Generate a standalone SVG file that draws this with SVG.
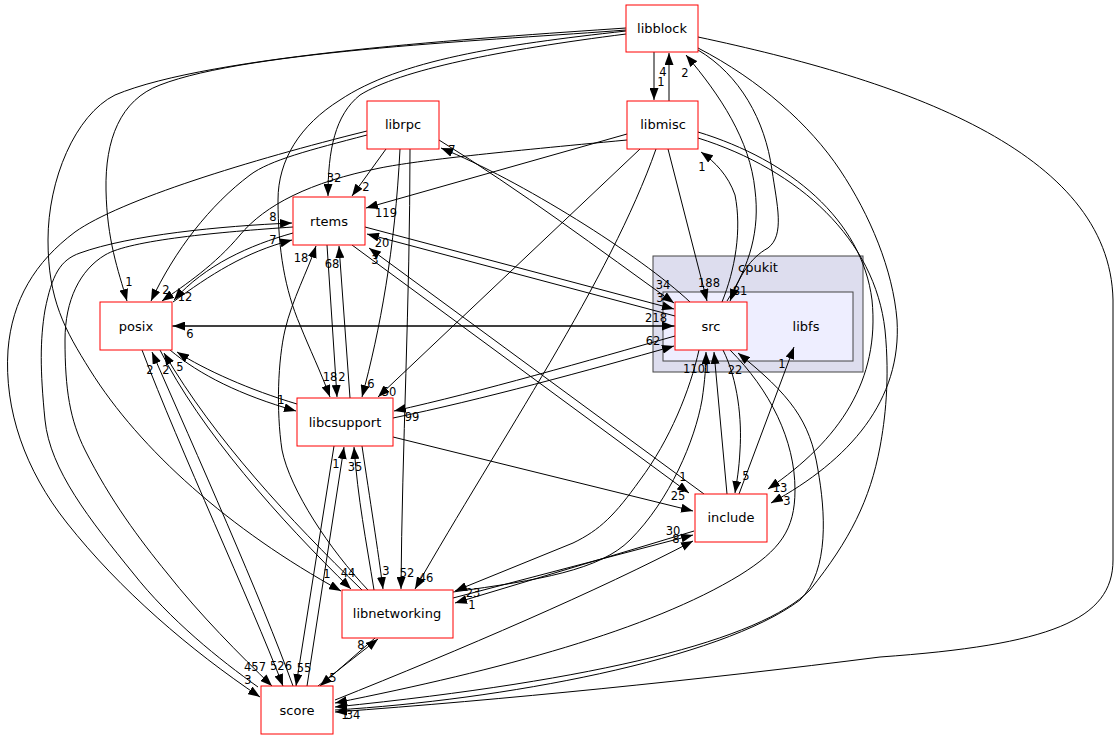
<svg xmlns="http://www.w3.org/2000/svg" width="1119" height="740" viewBox="0 0 1119 740">
<style>
.e{fill:none;stroke:#000;stroke-width:1;marker-end:url(#a)}
.n{fill:#fff;stroke:#ff0000;stroke-width:1}
.t{font-family:"DejaVu Sans","Liberation Sans",sans-serif;font-size:13px;text-anchor:middle;fill:#000}
.l{font-family:"DejaVu Sans","Liberation Sans",sans-serif;font-size:11.5px;text-anchor:middle;fill:#000}
</style>
<defs>
<marker id="a" markerWidth="12" markerHeight="9" refX="12" refY="4.5" orient="auto" markerUnits="userSpaceOnUse"><path d="M0,0L12,4.5L0,9z" fill="#000"/></marker>
</defs>
<rect width="1119" height="740" fill="#fff"/>
<g id="cluster-cpukit">
<rect x="653" y="256" width="210" height="116" fill="#ddddee" stroke="#444"/>
<text class="t" x="758" y="272">cpukit</text>
</g>
<g id="cluster-libfs">
<rect x="663" y="292" width="190" height="69" fill="#eeeeff" stroke="#444"/>
<text class="t" x="806" y="331">libfs</text>
</g>
<g id="edges">
<path class="e" d="M654,52 L654,100"/>
<path class="e" d="M669,101 L669,53"/>
<path class="e" d="M727,301 C750,265 760,230 755,190 C750,140 720,95 686,55"/>
<path class="e" d="M698,50 C740,75 765,120 772,170 C777,205 785,235 768,248 C750,258 740,275 730,301"/>
<path class="e" d="M722,302 C735,270 742,230 735,195 C728,175 715,162 701,152"/>
<path class="e" d="M668,149 L707,301"/>
<path class="e" d="M626,34 C500,50 400,70 360,95 C335,115 328,150 328,196"/>
<path class="e" d="M626,30 C500,40 250,50 160,85 C120,100 105,140 106,190 C107,240 118,270 127,301"/>
<path class="e" d="M626,28 C480,38 210,55 115,95 C75,115 48,180 48,240 C48,300 65,330 90,370 C140,450 230,530 341,591"/>
<path class="e" d="M626,31 C500,45 400,60 340,100 C300,125 278,160 278,200 C278,250 285,290 300,325 C310,350 320,370 330,397"/>
<path class="e" d="M698,48 C760,80 810,125 840,170 C870,215 893,270 897,320 C902,400 850,460 771,503"/>
<path class="e" d="M698,132 C790,160 862,220 872,300 C880,380 840,440 768,489"/>
<path class="e" d="M698,138 C800,170 875,240 885,330 C890,380 885,420 880,447 C870,500 850,540 810,590 C760,640 600,680 335,707"/>
<path class="e" d="M698,37 C900,80 1110,150 1113,300 L1113,560 C1113,620 1050,645 880,657 C700,680 500,700 335,712"/>
<path class="e" d="M730,350 C770,390 795,440 795,490 C795,530 780,550 740,575 C650,630 500,670 335,703"/>
<path class="e" d="M335,710 C500,700 720,660 800,600 C830,570 825,510 818,470 C810,420 790,395 738,353"/>
<path class="e" d="M723,350 C738,380 742,420 740,450 C739,470 737,480 735,493"/>
<path class="e" d="M727,494 L714,352"/>
<path class="e" d="M739,494 L794,347"/>
<path class="e" d="M453,592 C540,580 600,570 630,540 C670,500 695,440 702,400 C705,380 706,365 706,352"/>
<path class="e" d="M699,350 C690,390 670,440 640,480 C615,515 600,530 573,543 L455,591"/>
<path class="e" d="M694,531 L455,603"/>
<path class="e" d="M453,598 L693,535"/>
<path class="e" d="M335,700 C460,650 600,590 693,541"/>
<path class="e" d="M393,437 L693,511"/>
<path class="e" d="M352,245 L689,493"/>
<path class="e" d="M704,494 L369,248"/>
<path class="e" d="M365,227 L674,309"/>
<path class="e" d="M675,316 L367,234"/>
<path class="e" d="M439,140 C520,190 600,250 674,303"/>
<path class="e" d="M690,302 C640,255 520,180 441,148"/>
<path class="e" d="M172,326 L674,326"/>
<path class="e" d="M675,326 L173,326"/>
<path class="e" d="M393,418 C480,400 590,370 674,346"/>
<path class="e" d="M675,336 C590,360 480,392 394,411"/>
<path class="e" d="M627,134 L366,208"/>
<path class="e" d="M627,140 C500,152 420,160 380,168 C310,182 265,205 240,235 C215,265 185,285 162,301"/>
<path class="e" d="M640,149 L378,397"/>
<path class="e" d="M656,149 C610,280 500,440 415,589"/>
<path class="e" d="M386,149 L352,196"/>
<path class="e" d="M400,149 C395,250 380,330 362,397"/>
<path class="e" d="M410,149 C410,300 402,450 401,589"/>
<path class="e" d="M367,135 C310,150 270,160 250,175 C210,205 175,250 151,301"/>
<path class="e" d="M367,131 C250,160 120,200 75,232 C35,262 12,300 8,350 C4,410 25,470 67,523 C120,590 190,650 260,697"/>
<path class="e" d="M258,687 C220,660 170,620 133,573 C90,520 50,470 45,420 C40,370 40,340 45,310 C52,275 60,260 80,253 C130,235 220,226 292,223"/>
<path class="e" d="M293,227 C220,232 130,240 105,255 C80,270 65,300 65,340 C65,390 70,420 85,450 C110,500 140,540 167,573 C200,615 240,655 272,686"/>
<path class="e" d="M173,302 C210,275 245,252 292,240"/>
<path class="e" d="M293,233 C250,245 205,265 174,300"/>
<path class="e" d="M327,245 L337,397"/>
<path class="e" d="M350,398 L339,246"/>
<path class="e" d="M368,590 C330,550 290,490 282,450 C276,410 278,360 285,330 C292,300 308,270 316,246"/>
<path class="e" d="M170,350 C200,375 240,395 296,411"/>
<path class="e" d="M297,404 C250,390 205,370 177,352"/>
<path class="e" d="M160,350 C200,430 280,520 351,589"/>
<path class="e" d="M362,590 C290,520 215,440 164,353"/>
<path class="e" d="M142,350 C180,450 250,600 283,686"/>
<path class="e" d="M293,686 C262,600 195,450 152,352"/>
<path class="e" d="M334,446 L296,686"/>
<path class="e" d="M307,686 L344,447"/>
<path class="e" d="M362,446 C370,500 378,550 383,589"/>
<path class="e" d="M374,590 C366,540 358,500 354,447"/>
<path class="e" d="M375,638 L320,686"/>
<path class="e" d="M318,686 L378,639"/>
</g>
<g id="node-libblock"><rect class="n" x="626" y="5" width="72" height="47"/><text class="t" x="662" y="33">libblock</text></g>
<g id="node-libmisc"><rect class="n" x="627" y="101" width="71" height="48"/><text class="t" x="663" y="129">libmisc</text></g>
<g id="node-librpc"><rect class="n" x="367" y="101" width="72" height="48"/><text class="t" x="403" y="129">librpc</text></g>
<g id="node-rtems"><rect class="n" x="293" y="197" width="72" height="48"/><text class="t" x="329" y="226">rtems</text></g>
<g id="node-posix"><rect class="n" x="100" y="302" width="72" height="48"/><text class="t" x="136" y="331">posix</text></g>
<g id="node-src"><rect class="n" x="675" y="302" width="72" height="48"/><text class="t" x="711" y="331">src</text></g>
<g id="node-libcsupport"><rect class="n" x="297" y="398" width="96" height="48"/><text class="t" x="345" y="427">libcsupport</text></g>
<g id="node-include"><rect class="n" x="695" y="494" width="72" height="48"/><text class="t" x="731" y="522">include</text></g>
<g id="node-libnetworking"><rect class="n" x="342" y="590" width="111" height="48"/><text class="t" x="397" y="618">libnetworking</text></g>
<g id="node-score"><rect class="n" x="261" y="686" width="72" height="48"/><text class="t" x="297" y="715">score</text></g>
<g id="labels">
<text class="l" x="663" y="76">4</text>
<text class="l" x="661" y="86">1</text>
<text class="l" x="685" y="77">2</text>
<text class="l" x="702" y="171">1</text>
<text class="l" x="452" y="154">7</text>
<text class="l" x="334" y="182">32</text>
<text class="l" x="366" y="191">2</text>
<text class="l" x="386" y="217">119</text>
<text class="l" x="273" y="221">8</text>
<text class="l" x="273" y="244">7</text>
<text class="l" x="301" y="262">18</text>
<text class="l" x="332" y="268">68</text>
<text class="l" x="382" y="247">20</text>
<text class="l" x="375" y="264">3</text>
<text class="l" x="709" y="287">188</text>
<text class="l" x="663" y="289">34</text>
<text class="l" x="660" y="302">3</text>
<text class="l" x="740" y="295">81</text>
<text class="l" x="656" y="322">218</text>
<text class="l" x="653" y="345">62</text>
<text class="l" x="694" y="373">110</text>
<text class="l" x="707" y="373">1</text>
<text class="l" x="735" y="374">22</text>
<text class="l" x="782" y="368">1</text>
<text class="l" x="129" y="286">1</text>
<text class="l" x="166" y="294">2</text>
<text class="l" x="185" y="301">12</text>
<text class="l" x="190" y="338">6</text>
<text class="l" x="150" y="374">2</text>
<text class="l" x="166" y="374">2</text>
<text class="l" x="180" y="371">5</text>
<text class="l" x="330" y="381">18</text>
<text class="l" x="342" y="381">2</text>
<text class="l" x="371" y="388">6</text>
<text class="l" x="389" y="396">50</text>
<text class="l" x="281" y="404">1</text>
<text class="l" x="412" y="421">99</text>
<text class="l" x="336" y="468">1</text>
<text class="l" x="355" y="471">35</text>
<text class="l" x="683" y="481">1</text>
<text class="l" x="678" y="500">25</text>
<text class="l" x="746" y="480">5</text>
<text class="l" x="780" y="492">13</text>
<text class="l" x="787" y="505">3</text>
<text class="l" x="673" y="535">30</text>
<text class="l" x="676" y="543">8</text>
<text class="l" x="327" y="578">1</text>
<text class="l" x="348" y="577">44</text>
<text class="l" x="386" y="575">3</text>
<text class="l" x="407" y="577">52</text>
<text class="l" x="426" y="582">46</text>
<text class="l" x="473" y="597">23</text>
<text class="l" x="472" y="609">1</text>
<text class="l" x="361" y="649">8</text>
<text class="l" x="333" y="682">5</text>
<text class="l" x="255" y="671">457</text>
<text class="l" x="281" y="670">526</text>
<text class="l" x="304" y="672">55</text>
<text class="l" x="248" y="684">3</text>
<text class="l" x="353" y="719">34</text>
<text class="l" x="345" y="719">1</text>
</g>
</svg>
